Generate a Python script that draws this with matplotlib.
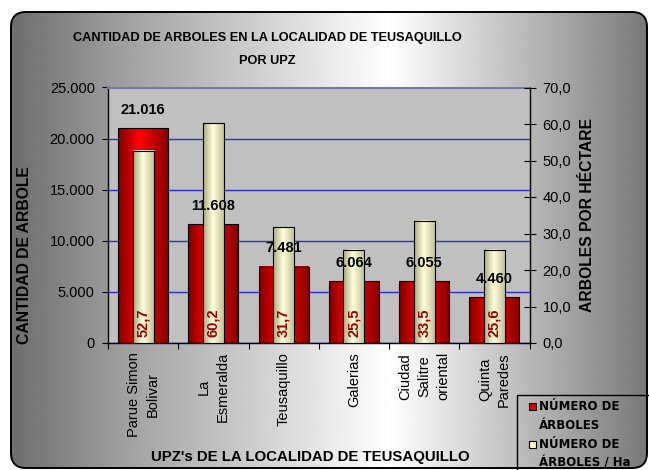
import numpy as np
import matplotlib
matplotlib.use("Agg")
import matplotlib.pyplot as plt
from matplotlib.patches import FancyBboxPatch, Rectangle
from matplotlib.colors import LinearSegmentedColormap

# ---------------- data ----------------
categories = ["Parue Simon\nBolivar", "La\nEsmeralda", "Teusaquillo", "Galerias",
              "Ciudad\nSalitre\noriental", "Quinta\nParedes"]
arboles = [21016, 11608, 7481, 6064, 6055, 4460]
arboles_ha = [52.7, 60.2, 31.7, 25.5, 33.5, 25.6]
left_ticks = [0, 5000, 10000, 15000, 20000, 25000]
left_tick_labels = ["0", "5.000", "10.000", "15.000", "20.000", "25.000"]
right_ticks = [0, 10, 20, 30, 40, 50, 60, 70]
right_tick_labels = ["0,0", "10,0", "20,0", "30,0", "40,0", "50,0", "60,0", "70,0"]
legend_labels = ["NÚMERO DE\nÁRBOLES", "NÚMERO DE\nÁRBOLES / Ha"]
title = "CANTIDAD DE ARBOLES EN LA LOCALIDAD DE TEUSAQUILLO\nPOR UPZ"
xlabel = "UPZ's DE LA LOCALIDAD DE TEUSAQUILLO"
ylabel_left = "CANTIDAD DE ARBOLE"
ylabel_right = "ARBOLES POR HÉCTARE"

RED = '#e00000'
CREAM = '#ffffc0'
W, H = 649, 470
plt.rcParams['font.family'] = ['Liberation Sans', 'DejaVu Sans']

fig = plt.figure(figsize=(W / 100, H / 100), dpi=100)
fig.patch.set_facecolor('white')

# ---------------- background with rounded border ----------------
bg = fig.add_axes([0, 0, 1, 1], zorder=-10)
bg.set_xlim(0, W)
bg.set_ylim(H, 0)
bg.axis('off')
xs = np.arange(W)
profile = np.interp(xs, [0, 120, 390, 560, 649], [0.41, 0.62, 1.0, 0.66, 0.47])
img = bg.imshow(np.tile(profile, (2, 1)), cmap='gray', vmin=0, vmax=1,
                extent=(0, W, H, 0), aspect='auto', interpolation='bilinear')
box = FancyBboxPatch((11, 12), 636, 456, boxstyle="round,pad=0,rounding_size=15",
                     facecolor='none', edgecolor='black', lw=1.4)
bg.add_patch(box)
img.set_clip_path(box)

# ---------------- legend (drawn in pixel space of the background) ----------------
bg.add_patch(Rectangle((517, 395), 150, 90, facecolor='none', edgecolor='black',
                       lw=1.0, clip_on=False))
for k, (lab, col) in enumerate(zip(legend_labels, [RED, CREAM])):
    y0 = 402.5 + k * 38
    bg.add_patch(Rectangle((529, y0), 7, 7, facecolor=col, edgecolor='black',
                           lw=0.8, clip_on=False))
    bg.text(539, y0 - 2.5, lab, ha='left', va='top', family='DejaVu Sans',
            fontweight='bold', fontsize=8.5, linespacing=1.6)

# ---------------- main axes ----------------
ax = fig.add_axes([108 / W, (H - 343) / H, 421.5 / W, 255.5 / H])
ax2 = ax.twinx()
ax.set_facecolor('#c0c0c0')

x = np.arange(len(categories))
red_bars = ax.bar(x, arboles, width=0.71, color='none', edgecolor='black',
                  linewidth=0.8, zorder=2.2)
cream_bars = ax2.bar(x, arboles_ha, width=0.30, color='none', edgecolor='black',
                     linewidth=0.8, zorder=2.2)

red_cmap = LinearSegmentedColormap.from_list('r', [(0, '#800000'), (0.42, '#ff0000'), (1, '#8a0000')])
cream_cmap = LinearSegmentedColormap.from_list('c', [(0, '#a8a880'), (0.45, '#ffffdc'), (1, '#bcbc94')])
grad = np.linspace(0, 1, 64)[np.newaxis, :]

for bars, axis, cmap in ((red_bars, ax, red_cmap), (cream_bars, ax2, cream_cmap)):
    for r in bars:
        x0, w, h = r.get_x(), r.get_width(), r.get_height()
        axis.imshow(grad, cmap=cmap, extent=(x0, x0 + w, 0, h), aspect='auto',
                    interpolation='bilinear', zorder=2.1)

ax.set_xlim(-0.5, len(categories) - 0.5)
ax.set_ylim(0, 25000)
ax2.set_ylim(0, 70)
ax2.set_xlim(-0.5, len(categories) - 0.5)

# grid
ax.set_axisbelow(True)
ax.yaxis.grid(True, color='#2a2ad8', lw=1.0)
ax.xaxis.grid(False)

# ticks
ax.set_yticks(left_ticks, labels=left_tick_labels)
ax2.set_yticks(right_ticks, labels=right_tick_labels)
ax.tick_params(axis='y', direction='out', length=4, pad=5.5, labelsize=10.5, colors='black')
ax2.tick_params(axis='y', direction='inout', length=8, pad=5.5, labelsize=10.5)
ax.set_xticks(np.arange(-0.5, len(categories), 1.0), labels=[''] * (len(categories) + 1))
ax.set_xticks(x, labels=categories, minor=True, rotation=90, multialignment='center',
              linespacing=1.45)
ax.tick_params(axis='x', which='major', direction='out', length=4)
ax.tick_params(axis='x', which='minor', length=0, pad=6.5, labelsize=10.5)

for s in ('left', 'bottom'):
    ax.spines[s].set_color('black')
    ax.spines[s].set_linewidth(1.0)
ax.spines['right'].set_visible(False)
ax.spines['top'].set_color('#7a7aa8')
ax.spines['top'].set_linewidth(1.5)
for s in ('left', 'bottom', 'top'):
    ax2.spines[s].set_visible(False)
ax2.spines['right'].set_color('black')
ax2.spines['right'].set_linewidth(1.0)

# value labels
for i, v in enumerate(arboles):
    ax2.annotate(f"{v:,}".replace(',', '.'), xy=(i, v), xycoords=ax.transData,
                 xytext=(0, 8), textcoords='offset points', ha='center', va='bottom',
                 fontsize=10.5, fontweight='bold', color='black', zorder=5)
for i, v in enumerate(arboles_ha):
    ax2.annotate(f"{v:.1f}".replace('.', ','), xy=(i, 0), xytext=(0, 4.5),
                 textcoords='offset points', ha='center', va='bottom', rotation=90,
                 fontsize=10.5, fontweight='bold', color='#9a0000', zorder=5)

# titles
fig.text(267 / W, 1 - 49.5 / H, title, ha='center', va='center', fontsize=9.2,
         fontweight='bold', linespacing=2.25)
fig.text(25 / W, 1 - 255 / H, ylabel_left, rotation=90, ha='center', va='center',
         fontsize=11.3, fontweight='bold')
fig.text(587.5 / W, 1 - 214.5 / H, ylabel_right, rotation=90, ha='center', va='center',
         fontsize=11.3, fontweight='bold')
fig.text(310 / W, 1 - 457 / H, xlabel, ha='center', va='center', fontsize=10.8,
         fontweight='bold')

fig.savefig('out.png', dpi=100)
